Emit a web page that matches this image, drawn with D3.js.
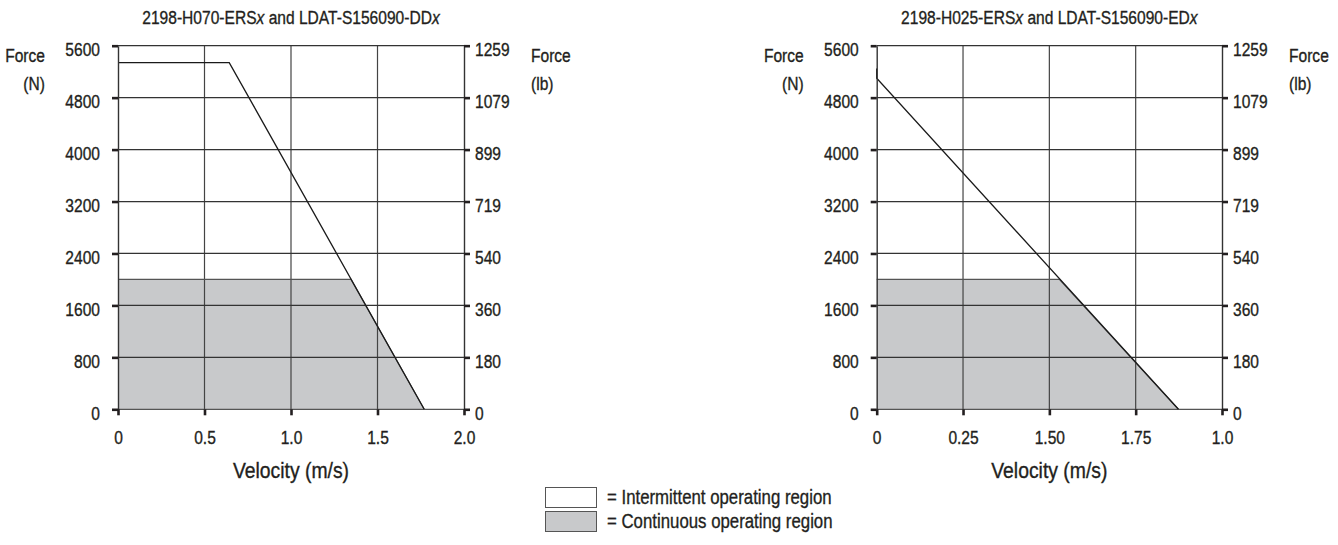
<!DOCTYPE html>
<html>
<head>
<meta charset="utf-8">
<script src="https://cdn.jsdelivr.net/npm/d3@7"></script>
<style>
  html, body { margin: 0; padding: 0; background: #fff; }
  svg { display: block; }
  text { font-family: "Liberation Sans", Arial, sans-serif; fill: #231f20; stroke: #231f20; stroke-width: 0.35px; }
</style>
</head>
<body>
<svg id="chart" width="1338" height="545"></svg>
<script>
// ---- data ----
const chartTitles = ["2198-H070-ERS", "2198-H025-ERS"];
const chartTitleMid = " and LDAT-S156090-";
const chartTitleEnds = ["DD", "ED"];
const forceTicksN = [0, 800, 1600, 2400, 3200, 4000, 4800, 5600];
const forceTickLabelsN = ["0", "800", "1600", "2400", "3200", "4000", "4800", "5600"];
const forceTickLabelsLb = ["0", "180", "360", "540", "719", "899", "1079", "1259"];
const leftVelTicks = [0, 0.5, 1.0, 1.5, 2.0];
const leftVelLabels = ["0", "0.5", "1.0", "1.5", "2.0"];
const rightVelTicks = [0, 0.25, 0.5, 0.75, 1.0];
const rightVelLabels = ["0", "0.25", "1.50", "1.75", "1.0"];
// boundary curves: [velocity, force N]
const leftIntermittent = [[0, 5340], [0.643, 5340], [1.77, 0]];
const leftContinuous = [[0, 2000], [1.347, 2000], [1.77, 0]];
const rightIntermittent = [[0, 5250], [0, 5100], [0.874, 0]];
const rightContinuous = [[0, 2000], [0.529, 2000], [0.874, 0]];
const legendLabels = ["= Intermittent operating region", "= Continuous operating region"];
const xAxisTitle = "Velocity (m/s)";

// ---- layout ----
const svg = d3.select("#chart");
const FILL = "#c8c9cb";
const yTop = 45.7, yBot = 409.3;
const NARROW = 0.82;

// condensed look: horizontally compress text around its own anchor
function narrow(sel, f = NARROW) {
  sel.each(function () {
    const t = d3.select(this);
    const x = +(t.attr("x") || 0);
    t.attr("x", x / f).attr("transform", `scale(${f},1)`);
  });
}

function drawChart(cfg) {
  const g = svg.append("g");
  const x = d3.scaleLinear().domain(cfg.xDomain).range([cfg.x0, cfg.x1]);
  const y = d3.scaleLinear().domain([0, 5600]).range([yBot, yTop]);

  // continuous region fill
  const area = d3.area().x(d => x(d[0])).y0(y(0)).y1(d => y(d[1]));
  g.append("path").datum(cfg.cont).attr("d", area).attr("fill", FILL);

  // grid
  g.append("g").selectAll("line").data(cfg.xTicks.slice(1, -1)).join("line")
    .attr("x1", d => x(d)).attr("x2", d => x(d)).attr("y1", y(0)).attr("y2", y(5600))
    .attr("stroke", "#444").attr("stroke-width", 1.2);
  g.append("g").selectAll("line").data(forceTicksN).join("line")
    .attr("x1", cfg.x0).attr("x2", cfg.x1).attr("y1", d => y(d)).attr("y2", d => y(d))
    .attr("stroke", d => d === 0 ? "#555" : "#333").attr("stroke-width", 1.3);

  // continuous top edge
  const line = d3.line().x(d => x(d[0])).y(d => y(d[1]));
  g.append("path").datum(cfg.cont).attr("d", line).attr("fill", "none")
    .attr("stroke", "#555").attr("stroke-width", 1.2);
  // intermittent boundary
  g.append("path").datum(cfg.inter).attr("d", line).attr("fill", "none")
    .attr("stroke", "#1a1a1a").attr("stroke-width", 1.3);

  // axes
  const styleAxis = (sel) => {
    sel.attr("font-family", null);
    sel.select(".domain").attr("stroke", "#333").attr("stroke-width", 1.4);
    sel.selectAll(".tick line").attr("stroke", "#231f20").attr("stroke-width", 2.6);
    sel.selectAll(".tick text").style("font-size", "19px").attr("fill", "#231f20");
  };
  const left = g.append("g").attr("transform", `translate(${cfg.x0},0)`)
    .call(d3.axisLeft(y).tickValues(forceTicksN).tickSize(6).tickSizeOuter(0).tickPadding(12)
      .tickFormat((d, i) => forceTickLabelsN[i]));
  styleAxis(left);
  left.selectAll(".tick text").attr("dy", "0.53em").call(narrow);

  const right = g.append("g").attr("transform", `translate(${cfg.x1},0)`)
    .call(d3.axisRight(y).tickValues(forceTicksN).tickSize(6).tickSizeOuter(0).tickPadding(5)
      .tickFormat((d, i) => forceTickLabelsLb[i]));
  styleAxis(right);
  right.selectAll(".tick text").attr("dy", "0.53em").call(narrow);

  const bottom = g.append("g").attr("transform", `translate(0,${yBot})`)
    .call(d3.axisBottom(x).tickValues(cfg.xTicks).tickSize(6).tickSizeOuter(0).tickPadding(15)
      .tickFormat((d, i) => cfg.xLabels[i]));
  bottom.select(".domain").remove();
  styleAxis(bottom);
  bottom.selectAll(".tick text").call(narrow);

  // titles
  const cx = (cfg.x0 + cfg.x1) / 2;
  const t = g.append("text").attr("x", cx).attr("y", 24).attr("text-anchor", "middle")
    .style("font-size", "19px");
  t.append("tspan").text(cfg.title);
  t.append("tspan").attr("font-style", "italic").text("x");
  t.append("tspan").text(chartTitleMid + cfg.titleEnd);
  t.append("tspan").attr("font-style", "italic").text("x");
  t.call(narrow);

  g.append("text").attr("x", cx).attr("y", 478).attr("text-anchor", "middle")
    .style("font-size", "22px").text(xAxisTitle).call(narrow, 0.88);

  g.append("text").attr("x", cfg.x0 - 73).attr("y", 62).attr("text-anchor", "end")
    .style("font-size", "19px").text("Force").call(narrow);
  g.append("text").attr("x", cfg.x0 - 73).attr("y", 90).attr("text-anchor", "end")
    .style("font-size", "19px").text("(N)").call(narrow);
  g.append("text").attr("x", cfg.x1 + 67).attr("y", 62).attr("text-anchor", "start")
    .style("font-size", "19px").text("Force").call(narrow);
  g.append("text").attr("x", cfg.x1 + 67).attr("y", 90).attr("text-anchor", "start")
    .style("font-size", "19px").text("(lb)").call(narrow);
}

drawChart({
  x0: 118, x1: 464, xDomain: [0, 2], xTicks: leftVelTicks, xLabels: leftVelLabels,
  inter: leftIntermittent, cont: leftContinuous, title: chartTitles[0], titleEnd: chartTitleEnds[0]
});
drawChart({
  x0: 876.7, x1: 1222, xDomain: [0, 1], xTicks: rightVelTicks, xLabels: rightVelLabels,
  inter: rightIntermittent, cont: rightContinuous, title: chartTitles[1], titleEnd: chartTitleEnds[1]
});

// legend
const legend = svg.append("g");
const legendFills = ["#ffffff", FILL];
legend.selectAll("rect").data(legendLabels).join("rect")
  .attr("x", 545.5).attr("y", (d, i) => 487.5 + i * 24).attr("width", 51).attr("height", 20)
  .attr("fill", (d, i) => legendFills[i]).attr("stroke", "#555").attr("stroke-width", 1);
legend.selectAll("text").data(legendLabels).join("text")
  .attr("x", 607).attr("y", (d, i) => 504 + i * 24)
  .style("font-size", "20.5px").text(d => d).call(narrow);
</script>
</body>
</html>
